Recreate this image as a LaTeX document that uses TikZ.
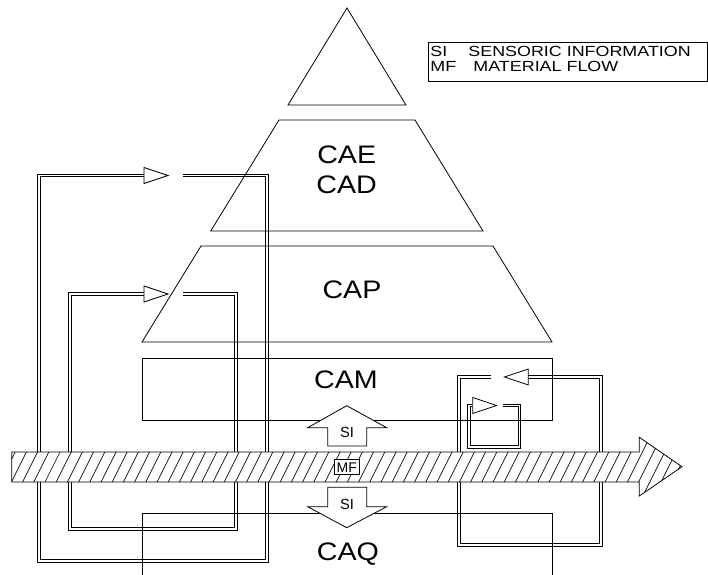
\documentclass[tikz,border=0pt]{standalone}
\usepackage{fontspec}
\setmainfont{Liberation Sans}
\newfontfamily\widesans[FakeStretch=1.13]{Liberation Sans}
\newfontfamily\widersans[FakeStretch=1.22]{Liberation Sans}
\begin{document}
\begin{tikzpicture}[x=0.75pt,y=-0.75pt,line width=0.6pt,
    fb/.style={double,double distance=1.2pt,line width=0.7pt},
    big/.style={font=\widesans\fontsize{19}{22.5}\selectfont,anchor=base},
    small/.style={font=\fontsize{11}{12}\selectfont,anchor=base}]
    \useasboundingbox (0,0) rectangle (708,575);
    % feedback loops
    \draw[fb] (183,175.5)--(267,175.5)--(267,561)--(39,561)--(39,175.5)--(144,175.5);
    \draw[fb] (183,294)--(236,294)--(236,529)--(70,529)--(70,294)--(144,294);
    \draw[fb] (491,377)--(459,377)--(459,545)--(601,545)--(601,377)--(528,377);
    \draw[fb] (502.7,405.5)--(519.5,405.5)--(519.5,447)--(469,447)--(469,405.5)--(472.3,405.5);
    \foreach \x/\y/\d in {168/175.5/1,168/294/1,504.3/377/-1,496.7/405.5/1}
    {
        \draw[fill=white] (\x,\y)--++(-24*\d,-8)--++(0,16)--cycle;
    }
    % pyramid
    \draw (288,105)--(347,8)--(406,105)--cycle;
    \draw (210.7,231)--(279,120)--(415,120)--(483,231)--cycle;
    \draw (142,342)--(201,246)--(493,246)--(552,342)--cycle;
    \draw (142,358) rectangle (552,420);
    \draw (142,575)--(142,513)--(552,513)--(552,575);
    \node[big] (cae) at (346.7,163.3) {CAE};
    \node[big] (cad) at (346.7,193.3) {CAD};
    \node[big] (cap) at (352,298.3) {CAP};
    \node[big] (cam) at (346,388.3) {CAM};
    \node[big] (caq) at (348,560) {CAQ};
    % sensoric information
    \draw[fill=white] (327.7,446)--(327.7,427.7)--(307.7,427.7)--(346.7,405.7)--(386.7,427.7)--(366.7,427.7)--(366.7,446)--cycle;
    \draw[fill=white] (327.7,487.3)--(327.7,506.7)--(307.7,506.7)--(346.7,527.7)--(386.7,506.7)--(366.7,506.7)--(366.7,487.3)--cycle;
    \node[small] (siup) at (347,437.3) {SI};
    \node[small] (sidown) at (347,509.7) {SI};
    % material flow
    \fill[white] (11.7,452)--(639.3,452)--(639.3,437.3)--(682,466.7)--(639.3,496)--(639.3,482)--(11.7,482)--cycle;
    \begin{scope}
        \clip (11.7,452)--(639.3,452)--(639.3,437.3)--(682,466.7)--(639.3,496)--(639.3,482)--(11.7,482)--cycle;
        \foreach \x in {-20,-8.8,...,700}
        {
            \draw[line width=0.5pt] (\x,500)--++(35,-70);
        }
    \end{scope}
    \draw (11.7,452)--(639.3,452)--(639.3,437.3)--(682,466.7)--(639.3,496)--(639.3,482)--(11.7,482)--cycle;
    \node[draw,fill=white,font=\fontsize{10.5}{11}\selectfont,inner sep=2pt,line width=0.5pt] (mf) at (346.7,467.3) {MF};
    % legend
    \draw (428.3,42.7) rectangle (707.6,81.7);
    \node[anchor=north west,inner sep=0pt,align=left,font=\widersans\fontsize{11}{11.2}\selectfont] (legend) at (430,45.5)
        {\makebox[28.5pt][l]{SI}SENSORIC INFORMATION\\\makebox[32.3pt][l]{MF}MATERIAL FLOW};
\end{tikzpicture}
\end{document}
